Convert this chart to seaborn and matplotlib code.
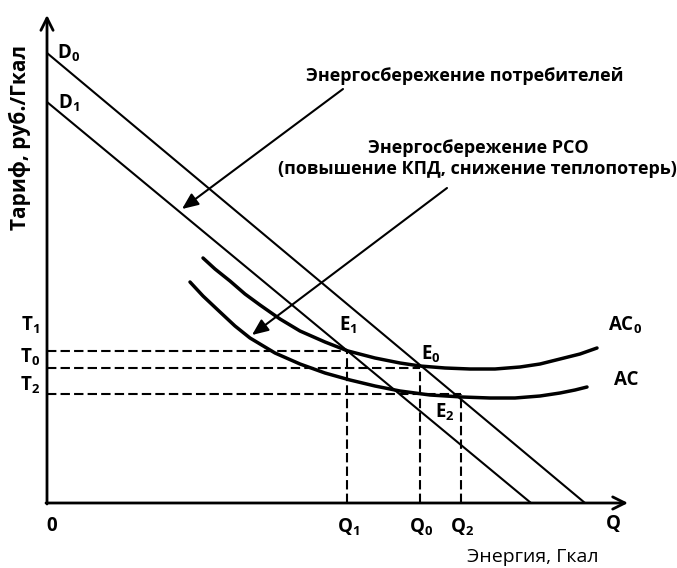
import matplotlib
matplotlib.use("Agg")
import matplotlib.pyplot as plt
import seaborn as sns
import pandas as pd

# ---- data (chart units, origin at the axes crossing) ----
d0_q = [0.0, 53.8]
d0_p = [45.0, 0.0]
d1_q = [0.0, 48.4]
d1_p = [40.1, 0.0]

ac0_q = [15.6, 16.8, 18.3, 19.8, 21.3, 23.3, 25.3, 27.8, 30.1, 32.8,
         35.3, 37.3, 39.8, 42.3, 44.8, 47.3, 49.3, 51.3, 53.3, 55.0]
ac0_p = [24.5, 23.4, 22.2, 20.9, 19.8, 18.4, 17.2, 16.1, 15.2, 14.5,
         14.0, 13.7, 13.5, 13.4, 13.4, 13.6, 13.9, 14.4, 14.9, 15.5]
ac_q = [14.3, 15.6, 17.3, 18.8, 20.3, 22.8, 25.3, 27.8, 30.3, 32.8,
        35.3, 38.3, 41.5, 44.3, 46.8, 49.3, 51.3, 52.8, 54.0]
ac_p = [22.1, 20.7, 19.1, 17.7, 16.5, 15.0, 13.9, 13.0, 12.3, 11.7,
        11.2, 10.8, 10.6, 10.5, 10.5, 10.7, 11.0, 11.3, 11.6]

eq_q = [30.0, 37.3, 41.4]   # Q1, Q0, Q2
eq_p = [15.2, 13.5, 10.9]   # T1, T0, T2

q_ticks = ["Q$_1$", "Q$_0$", "Q$_2$"]
t_ticks = ["T$_1$", "T$_0$", "T$_2$"]
e_labels = ["E$_1$", "E$_0$", "E$_2$"]

sns.set_theme(style="white")
fam = ["Open Sans", "DejaVu Sans"]
plt.rcParams["font.family"] = fam
plt.rcParams["mathtext.fontset"] = "custom"
plt.rcParams["mathtext.rm"] = "Open Sans:bold"
plt.rcParams["mathtext.it"] = "Open Sans:bold"
plt.rcParams["mathtext.bf"] = "Open Sans:bold"

fig = plt.figure(figsize=(6.77, 5.68), dpi=100)
ax = fig.add_axes([0, 0, 1, 1])
ax.set_xlim(-4.7, 63.0)
ax.set_ylim(-6.5, 50.3)
ax.axis("off")

k = "black"
# demand lines
sns.lineplot(x=d0_q, y=d0_p, ax=ax, color=k, lw=1.5, sort=False)
sns.lineplot(x=d1_q, y=d1_p, ax=ax, color=k, lw=1.5, sort=False)
# average cost curves
sns.lineplot(x=ac0_q, y=ac0_p, ax=ax, color=k, lw=2.5, sort=False,
             solid_joinstyle="round", solid_capstyle="round")
sns.lineplot(x=ac_q, y=ac_p, ax=ax, color=k, lw=2.5, sort=False,
             solid_joinstyle="round", solid_capstyle="round")

# dashed guides
for q, p in zip(eq_q, eq_p):
    ax.plot([0, q], [p, p], color=k, lw=1.5, ls=(0, (4.5, 2)))
    ax.plot([q, q], [0, p], color=k, lw=1.5, ls=(0, (4.5, 2)))

# axes with arrows
ax.annotate("", xy=(0, 48.8), xytext=(0, -0.1),
            arrowprops=dict(arrowstyle="->", lw=2, color=k, mutation_scale=22,
                            shrinkA=0, shrinkB=0))
ax.annotate("", xy=(58.1, 0), xytext=(-0.1, 0),
            arrowprops=dict(arrowstyle="->", lw=2, color=k, mutation_scale=22,
                            shrinkA=0, shrinkB=0))

lab = dict(fontsize=13.5, fontweight="bold", color=k, ha="center", va="center")
ax.text(2.2, 45.0, "D$_0$", **lab)
ax.text(2.2, 40.0, "D$_1$", **lab)
tx = [-1.7, -1.7, -1.7]
ty = [17.8, 14.6, 11.8]
for x, y, s in zip(tx, ty, t_ticks):
    ax.text(x, y, s, **lab)
for q, s in zip(eq_q, q_ticks):
    ax.text(q + 0.1, -2.4, s, **lab)
ax.text(0.5, -2.3, "0", **lab)
ax.text(56.6, -2.1, "Q", **lab)
ex = [30.1, 38.4, 39.8]
ey = [17.8, 14.9, 9.1]
for x, y, s in zip(ex, ey, e_labels):
    ax.text(x, y, s, **lab)
ax.text(57.8, 17.8, "AC$_0$", **lab)
ax.text(57.9, 12.3, "AC", **lab)

ax.text(48.6, -5.4, "Энергия, Гкал", fontsize=14, color=k,
        ha="center", va="center")
ax.text(-2.7, 36.6, "Тариф, руб./Гкал", fontsize=15, fontweight="bold",
        color=k, ha="center", va="center", rotation=90)

ann = dict(fontsize=13, fontweight="bold", color=k, ha="center", va="center")
ax.text(41.8, 42.7, "Энергосбережение потребителей", **ann)
ax.text(43.1, 35.5, "Энергосбережение РСО", **ann)
ax.text(43.0, 33.4, "(повышение КПД, снижение теплопотерь)", **ann)

arr = dict(arrowstyle="-|>,head_length=0.7,head_width=0.3", lw=1.5, color=k,
           shrinkA=0, shrinkB=0, mutation_scale=14)
ax.annotate("", xy=(13.5, 29.4), xytext=(29.6, 41.4), arrowprops=arr)
ax.annotate("", xy=(20.5, 16.8), xytext=(40.0, 31.5), arrowprops=arr)

fig.savefig("out.png", dpi=100)
